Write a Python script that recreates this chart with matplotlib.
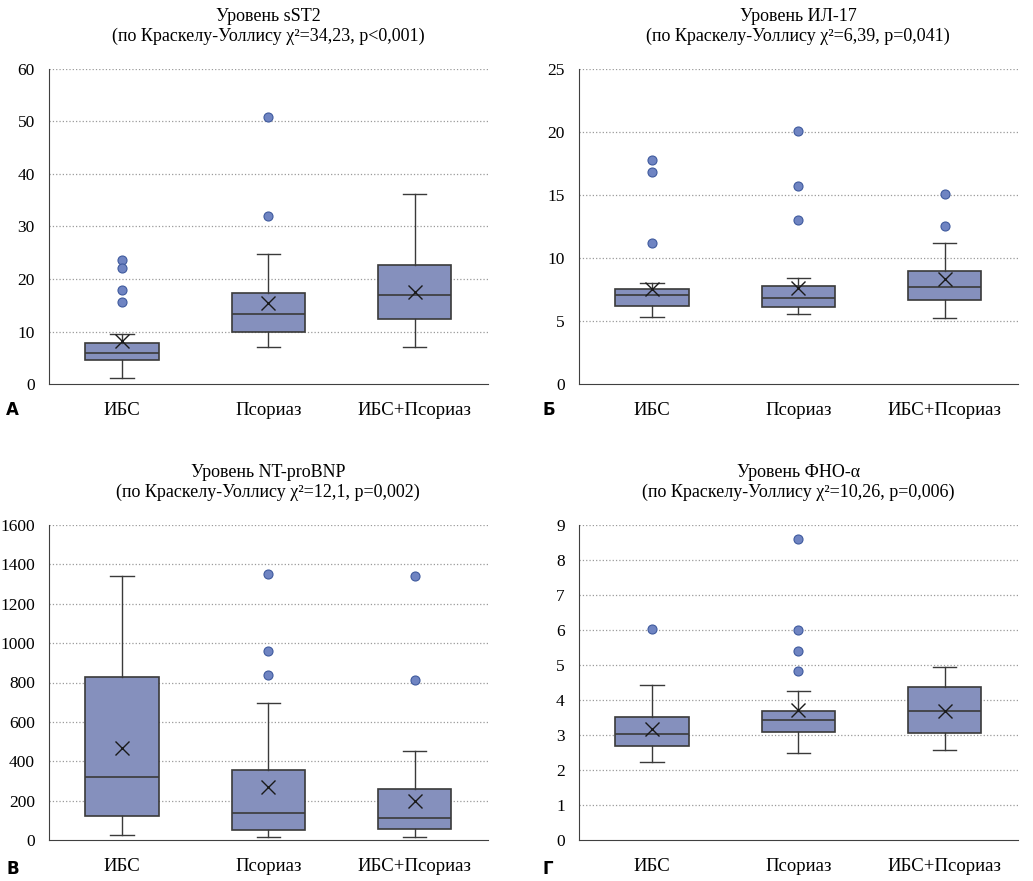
import matplotlib.pyplot as plt

plt.rcParams['font.family'] = ['Liberation Serif', 'DejaVu Serif']

groups = ['ИБС', 'Псориаз', 'ИБС+Псориаз']

# sST2: whislo, q1, med, q3, whishi, mean, fliers
sst2_whislo = [1.2, 7.0, 7.0]
sst2_q1 = [4.6, 10.0, 12.4]
sst2_med = [6.0, 13.4, 16.9]
sst2_q3 = [7.8, 17.4, 22.7]
sst2_whishi = [9.5, 24.8, 36.2]
sst2_mean = [8.1, 15.4, 17.5]
sst2_fliers = [[23.7, 22.0, 18.0, 15.7], [32.0, 50.8], []]

il17_whislo = [5.35, 5.55, 5.25]
il17_q1 = [6.2, 6.1, 6.7]
il17_med = [7.05, 6.8, 7.7]
il17_q3 = [7.5, 7.8, 9.0]
il17_whishi = [8.0, 8.45, 11.2]
il17_mean = [7.55, 7.65, 8.3]
il17_fliers = [[17.75, 16.85, 11.2], [20.1, 15.75, 13.0], [15.1, 12.55]]

bnp_whislo = [25, 17, 17]
bnp_q1 = [122, 49, 56]
bnp_med = [318, 139, 110]
bnp_q3 = [830, 356, 257]
bnp_whishi = [1343, 694, 452]
bnp_mean = [469, 271, 198]
bnp_fliers = [[], [1349, 960, 840], [1341, 811]]

tnf_whislo = [2.23, 2.49, 2.58]
tnf_q1 = [2.68, 3.08, 3.07]
tnf_med = [3.03, 3.42, 3.68]
tnf_q3 = [3.52, 3.69, 4.38]
tnf_whishi = [4.44, 4.25, 4.93]
tnf_mean = [3.16, 3.71, 3.69]
tnf_fliers = [[6.03], [8.6, 6.0, 5.39, 4.83], []]

panels = [
    ('Уровень sST2', '(по Краскелу-Уоллису χ²=34,23, p<0,001)', 'А',
     sst2_whislo, sst2_q1, sst2_med, sst2_q3, sst2_whishi, sst2_mean, sst2_fliers, 60, 10),
    ('Уровень ИЛ-17', '(по Краскелу-Уоллису χ²=6,39, p=0,041)', 'Б',
     il17_whislo, il17_q1, il17_med, il17_q3, il17_whishi, il17_mean, il17_fliers, 25, 5),
    ('Уровень NT-proBNP', '(по Краскелу-Уоллису χ²=12,1, p=0,002)', 'В',
     bnp_whislo, bnp_q1, bnp_med, bnp_q3, bnp_whishi, bnp_mean, bnp_fliers, 1600, 200),
    ('Уровень ФНО-α', '(по Краскелу-Уоллису χ²=10,26, p=0,006)', 'Г',
     tnf_whislo, tnf_q1, tnf_med, tnf_q3, tnf_whishi, tnf_mean, tnf_fliers, 9, 1),
]

W, H = 1033, 881
fig = plt.figure(figsize=(W / 100, H / 100), dpi=100)

# axes boxes in pixels: left, top, right, bottom
boxes = [(48.7, 69, 488, 384), (578.7, 69, 1018, 384),
         (48.7, 525, 488, 840), (578.7, 525, 1018, 840)]
letter_pos = [(6, 410), (543, 410), (6, 869), (543, 869)]

box_color = '#8590bd'
edge = '#3a3a3a'

for p, (l, t, r, b), (lx, ly) in zip(panels, boxes, letter_pos):
    t1, t2, letter, wlo, q1, med, q3, whi, mean, fl, ymax, step = p
    ax = fig.add_axes([l / W, 1 - b / H, (r - l) / W, (b - t) / H])
    stats = []
    for i in range(3):
        stats.append(dict(whislo=wlo[i], q1=q1[i], med=med[i], q3=q3[i],
                          whishi=whi[i], mean=mean[i], fliers=fl[i]))
    ax.bxp(stats, positions=[1, 2, 3], widths=0.5, capwidths=0.16,
           showmeans=True, patch_artist=True,
           boxprops=dict(facecolor=box_color, edgecolor=edge, linewidth=1.2),
           medianprops=dict(color=edge, linewidth=1.2),
           whiskerprops=dict(color=edge, linewidth=1.0),
           capprops=dict(color=edge, linewidth=1.0),
           meanprops=dict(marker='x', markeredgecolor='#1a1a1a', markersize=10,
                          markeredgewidth=1.0),
           flierprops=dict(marker='o', markerfacecolor='#6f84c2',
                           markeredgecolor='#3f5a9e', markersize=6.5,
                           markeredgewidth=0.8))
    ax.set_xlim(0.5, 3.5)
    ax.set_ylim(0, ymax)
    ax.set_yticks(range(0, ymax + 1, step))
    ax.set_xticks([1, 2, 3])
    ax.set_xticklabels(groups)
    ax.tick_params(axis='both', length=0, colors='black')
    ax.tick_params(axis='y', pad=10, labelsize=12.5)
    ax.tick_params(axis='x', pad=13, labelsize=13.5)
    for yv in range(step, ymax + 1, step):
        ax.axhline(yv, color='#9a9a9a', linestyle=':', linewidth=0.9, zorder=0)
    ax.spines['top'].set_visible(False)
    ax.spines['right'].set_visible(False)
    ax.spines['left'].set_color('#404040')
    ax.spines['bottom'].set_color('#404040')
    ax.set_title(t1 + '\n' + t2, fontsize=13, pad=20, linespacing=1.25)
    fig.text(lx / W, 1 - ly / H, letter, fontsize=12, fontweight='bold',
             family='DejaVu Sans', va='center', ha='left')

fig.savefig('out.png', dpi=100)
